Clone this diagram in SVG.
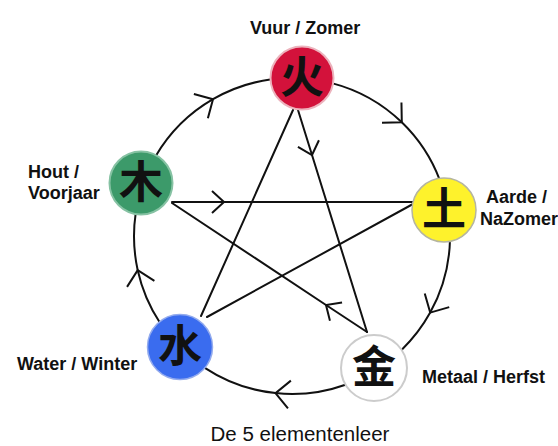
<svg xmlns="http://www.w3.org/2000/svg" width="558" height="446" viewBox="0 0 558 446">
<style>
.ln{fill:none;stroke:#111;stroke-width:2;stroke-linecap:round}
.arc{marker-mid:url(#chevL)}
.st{marker-mid:url(#chevS)}
.lbl{font-family:"Liberation Sans",Arial,sans-serif;font-weight:bold;font-size:18px;fill:#111}
.cap{font-family:"Liberation Sans",Arial,sans-serif;font-size:20.5px;fill:#111;text-anchor:middle}
.ch{font-family:"Noto Sans CJK SC","Noto Sans CJK TC",sans-serif;font-weight:700;font-size:44px;fill:#111;text-anchor:middle}
</style>
<defs>
<marker id="chevL" markerUnits="userSpaceOnUse" markerWidth="40" markerHeight="40" viewBox="-20 -20 40 40" refX="0" refY="0" orient="auto" overflow="visible">
<path d="M -14 -14 L 0 0 L -14 14" fill="none" stroke="#111" stroke-width="2"/>
</marker>
<marker id="chevS" markerUnits="userSpaceOnUse" markerWidth="40" markerHeight="40" viewBox="-20 -20 40 40" refX="0" refY="0" orient="auto" overflow="visible">
<path d="M -12 -11 L 0 0 L -12 11" fill="none" stroke="#111" stroke-width="2"/>
</marker>
</defs>
<rect width="558" height="446" fill="#fff"/>
<g id="connectors">
<path class="ln arc" d="M 155.6 156.3 A 158 158 0 0 1 213 99.2 A 158 158 0 0 1 271.6 79.3"/>
<path class="ln arc" d="M 331.8 83.1 A 158 158 0 0 1 401.8 122.3 A 158 158 0 0 1 439.8 180.1"/>
<path class="ln arc" d="M 450 239.6 A 158 158 0 0 1 430.2 312.6 A 158 158 0 0 1 401.8 349.7"/>
<path class="ln arc" d="M 345.5 384.7 A 158 158 0 0 1 275.5 393.1 A 158 158 0 0 1 204.8 367.8"/>
<path class="ln arc" d="M 159.8 322.5 A 158 158 0 0 1 137.7 270.2 A 158 158 0 0 1 135.7 213.2"/>
<path class="ln st" d="M 298 110 L 312 155 L 367 332"/>
<path class="ln st" d="M 367 332 L 326 305 L 172 203"/>
<path class="ln st" d="M 172 202 L 224 202 L 413 202"/>
<path class="ln" d="M 413 204 L 207 317"/>
<path class="ln" d="M 201 316 L 293 110"/>
</g>
<g id="vuur">
<circle cx="302" cy="78" r="31.5" fill="#d3123b" stroke="#ecb3bd" stroke-width="2"/>
<text class="ch" x="302" y="93">火</text>
<text class="lbl" x="250" y="34">Vuur / Zomer</text>
</g>
<g id="hout">
<circle cx="141" cy="183" r="31.5" fill="#3c9a6a" stroke="#86c2a3" stroke-width="2"/>
<text class="ch" x="141" y="198">木</text>
<text class="lbl" x="28" y="178">Hout /</text>
<text class="lbl" x="28" y="199">Voorjaar</text>
</g>
<g id="aarde">
<circle cx="444" cy="210" r="32" fill="#fef22c" stroke="#b5b5a0" stroke-width="1.5"/>
<text class="ch" x="444" y="225">土</text>
<text class="lbl" x="486" y="203">Aarde /</text>
<text class="lbl" x="480" y="225">NaZomer</text>
</g>
<g id="water">
<circle cx="180" cy="347" r="32.5" fill="#3a6cef" stroke="#93abee" stroke-width="1.5"/>
<text class="ch" x="180" y="362">水</text>
<text class="lbl" x="17" y="370">Water / Winter</text>
</g>
<g id="metaal">
<circle cx="374" cy="368" r="33" fill="#fff" stroke="#cccccc" stroke-width="2"/>
<text class="ch" x="374" y="383">金</text>
<text class="lbl" x="422" y="383">Metaal / Herfst</text>
</g>
<text class="cap" x="300" y="441">De 5 elementenleer</text>
</svg>
